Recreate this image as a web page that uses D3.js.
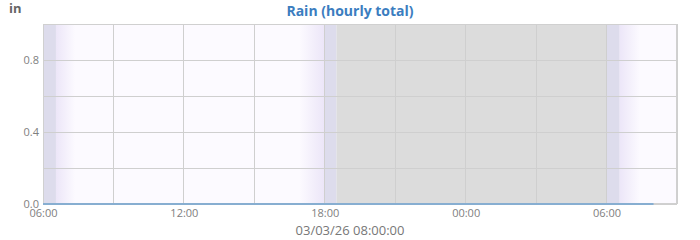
<!DOCTYPE html>
<html><head><meta charset="utf-8">
<script src="https://cdn.jsdelivr.net/npm/d3@7"></script>
<style>
html,body{margin:0;padding:0;background:#fff;}
svg{display:block;font-family:"Open Sans",sans-serif;}
</style></head>
<body><svg id="c" width="700" height="240"></svg>
<script>
// ---- data ----
const title = "Rain (hourly total)";
const unitLabel = "in";
const footerLabel = "03/03/26 08:00:00";
const domainStart = "2026-03-02T06:00:00";
const domainEnd = "2026-03-03T09:00:00";
const rainTimes = ["2026-03-02T06:00","2026-03-02T07:00","2026-03-02T08:00","2026-03-02T09:00","2026-03-02T10:00","2026-03-02T11:00","2026-03-02T12:00","2026-03-02T13:00","2026-03-02T14:00","2026-03-02T15:00","2026-03-02T16:00","2026-03-02T17:00","2026-03-02T18:00","2026-03-02T19:00","2026-03-02T20:00","2026-03-02T21:00","2026-03-02T22:00","2026-03-02T23:00","2026-03-03T00:00","2026-03-03T01:00","2026-03-03T02:00","2026-03-03T03:00","2026-03-03T04:00","2026-03-03T05:00","2026-03-03T06:00","2026-03-03T07:00","2026-03-03T08:00"];
const rainValues = [0,0,0,0,0,0,0,0,0,0,0,0,0,0,0,0,0,0,0,0,0,0,0,0,0,0,0];
const yTickValues = [0, 0.4, 0.8];
const yGridValues = [0, 0.2, 0.4, 0.6, 0.8, 1.0];
const yMax = 1.0;
// daylight phases
const nightBands = [["2026-03-02T18:30","2026-03-03T06:00"]];
const twilightBands = [["2026-03-02T06:00","2026-03-02T06:33"],["2026-03-02T17:58","2026-03-02T18:30"],["2026-03-03T06:00","2026-03-03T06:33"]];
const dawnGradients = [["2026-03-02T06:33","2026-03-02T07:22"],["2026-03-03T06:33","2026-03-03T07:25"]];
const duskGradients = [["2026-03-02T16:56","2026-03-02T17:58"]];

// ---- chart ----
const W = 700, H = 240;
const m = {left:43, right:23, top:24, bottom:36};
const svg = d3.select("#c");
const pd = d3.timeParse("%Y-%m-%dT%H:%M:%S");
const pm = d3.timeParse("%Y-%m-%dT%H:%M");
const x = d3.scaleTime().domain([pd(domainStart), pd(domainEnd)]).range([m.left, W - m.right]);
const y = d3.scaleLinear().domain([0, yMax]).range([H - m.bottom, m.top]);
const pw = W - m.right - m.left, ph = H - m.bottom - m.top;

const defs = svg.append("defs");
const g1 = defs.append("linearGradient").attr("id","dawn").attr("x1","0").attr("x2","1");
g1.append("stop").attr("offset","0").attr("stop-color","#ece6f8");
g1.append("stop").attr("offset","1").attr("stop-color","#fcfaff");
const g2 = defs.append("linearGradient").attr("id","dusk").attr("x1","0").attr("x2","1");
g2.append("stop").attr("offset","0").attr("stop-color","#fcfaff");
g2.append("stop").attr("offset","1").attr("stop-color","#ece6f8");

svg.append("rect").attr("x", m.left).attr("y", m.top).attr("width", pw).attr("height", ph).attr("fill", "#fcfaff");

function band(arr, fill){
  svg.append("g").selectAll("rect").data(arr).join("rect")
    .attr("x", d => x(pm(d[0]))).attr("y", m.top)
    .attr("width", d => x(pm(d[1])) - x(pm(d[0]))).attr("height", ph)
    .attr("fill", fill);
}
band(dawnGradients, "url(#dawn)");
band(duskGradients, "url(#dusk)");
band(twilightBands, "#dddcec");
band(nightBands, "#dcdcdc");

// grid
const gridTimes = x.ticks(d3.timeHour.every(3));
svg.append("g").selectAll("line").data(gridTimes).join("line")
  .attr("x1", d => x(d)).attr("x2", d => x(d)).attr("y1", m.top).attr("y2", H - m.bottom)
  .attr("stroke", "#cfcfcf").attr("stroke-width", 1).attr("shape-rendering","crispEdges");
svg.append("g").selectAll("line").data(yGridValues).join("line")
  .attr("x1", m.left).attr("x2", W - m.right).attr("y1", d => y(d)).attr("y2", d => y(d))
  .attr("stroke", "#cfcfcf").attr("stroke-width", 1).attr("shape-rendering","crispEdges");

svg.append("rect").attr("x", m.left + 0.5).attr("y", m.top + 0.5).attr("width", pw - 1).attr("height", ph - 1)
  .attr("fill", "none").attr("stroke", "#d0d0d0");

// axes
const xAxis = d3.axisBottom(x).ticks(d3.timeHour.every(6)).tickFormat(d3.timeFormat("%H:%M")).tickSize(0).tickPadding(5);
const gx = svg.append("g").attr("transform", `translate(0,${H - m.bottom})`).call(xAxis);
gx.select(".domain").remove();
gx.selectAll("text").attr("fill", "#808080").style("font-size", "11px").style("font-family", "Open Sans");

const yAxis = d3.axisLeft(y).tickValues(yTickValues).tickFormat(d3.format(".1f")).tickSize(0).tickPadding(4);
const gy = svg.append("g").attr("transform", `translate(${m.left},0)`).call(yAxis);
gy.select(".domain").remove();
gy.selectAll("text").attr("fill", "#808080").style("font-size", "11px").style("font-family", "Open Sans");

// line
const data = rainTimes.map((t, i) => ({t: pm(t), v: rainValues[i]}));
svg.append("path").datum(data)
  .attr("d", d3.line().x(d => x(d.t)).y(d => y(d.v)))
  .attr("fill", "none").attr("stroke", "#6fa3d2").attr("stroke-width", 1.5);

// texts
svg.append("text").attr("x", 350).attr("y", 16).attr("text-anchor", "middle")
  .attr("fill", "#3b7dbf").style("font-size", "14px").style("font-weight", "bold").text(title);
svg.append("text").attr("x", 9).attr("y", 13).attr("fill", "#666")
  .style("font-size", "13px").style("font-weight", "bold").text(unitLabel);
svg.append("text").attr("x", 350).attr("y", 235).attr("text-anchor", "middle")
  .attr("fill", "#777").style("font-size", "13px").text(footerLabel);
</script></body></html>
